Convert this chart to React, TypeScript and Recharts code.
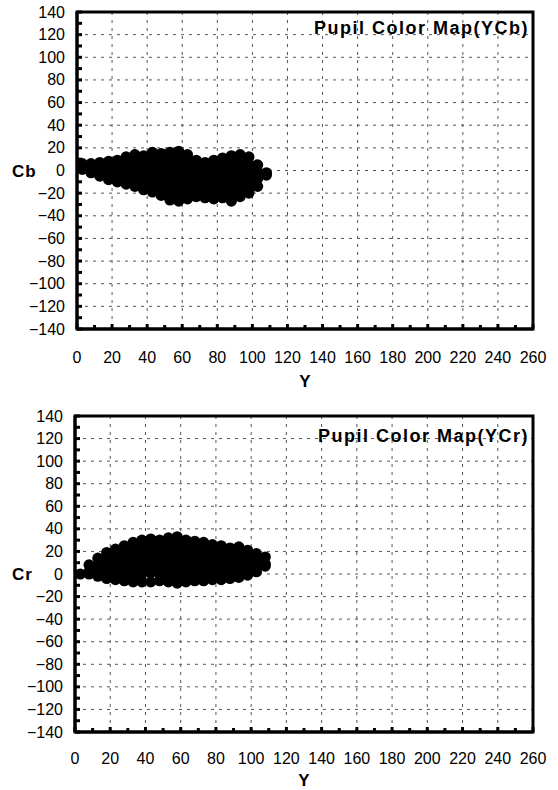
import React from "react";
import {
  ScatterChart,
  Scatter,
  XAxis,
  YAxis,
  CartesianGrid,
  ReferenceArea,
} from "recharts";

// axis ticks (minor every 10, labels every 20)
const xTicks = [0, 10, 20, 30, 40, 50, 60, 70, 80, 90, 100, 110, 120, 130, 140, 150, 160, 170, 180, 190, 200, 210, 220, 230, 240, 250, 260];
const yTicks = [-140, -130, -120, -110, -100, -90, -80, -70, -60, -50, -40, -30, -20, -10, 0, 10, 20, 30, 40, 50, 60, 70, 80, 90, 100, 110, 120, 130, 140];
const xGrid = [20, 40, 60, 80, 100, 120, 140, 160, 180, 200, 220, 240];
const yGrid = [-120, -100, -80, -60, -40, -20, 0, 20, 40, 60, 80, 100, 120];

// sample columns of the pupil pixel clouds (Y value)
const lumaColumns = [3, 8, 13, 18, 23, 28, 33, 38, 43, 48, 53, 58, 63, 68, 73, 78, 83, 88, 93, 98, 103, 108];

// Cb values read per column
const cbValues = [
  [6, 1],
  [6, 0, -2],
  [7, 1, -5],
  [8, 2, -4, -8],
  [9, 3, -3, -9, -10],
  [12, 6, 0, -6, -12],
  [14, 8, 2, -4, -10, -14],
  [13, 7, 1, -5, -11, -17],
  [16, 10, 4, -2, -8, -14, -19],
  [15, 9, 3, -3, -9, -15, -22],
  [16, 10, 4, -2, -8, -14, -20, -26],
  [17, 11, 5, -1, -7, -13, -19, -25, -27],
  [14, 8, 2, -4, -10, -16, -22, -25],
  [9, 3, -3, -9, -15, -21, -23],
  [7, 1, -5, -11, -17, -23, -24],
  [9, 3, -3, -9, -15, -21, -25],
  [11, 5, -1, -7, -13, -19, -24],
  [13, 7, 1, -5, -11, -17, -23, -27],
  [14, 8, 2, -4, -10, -16, -23],
  [12, 6, 0, -6, -12, -18, -20],
  [5, -1, -7, -14],
  [-2, -4],
];

// Cr values read per column
const crValues = [
  [0],
  [8, 2, 0],
  [14, 8, 2, -2],
  [19, 13, 7, 1, -4],
  [22, 16, 10, 4, -2, -5],
  [25, 19, 13, 7, 1, -6],
  [28, 22, 16, 10, 4, -2, -7],
  [30, 24, 18, 12, 6, 0, -7],
  [31, 25, 19, 13, 7, 1, -7],
  [30, 24, 18, 12, 6, 0, -6],
  [32, 26, 20, 14, 8, 2, -4, -7],
  [33, 27, 21, 15, 9, 3, -3, -8],
  [30, 24, 18, 12, 6, 0, -7],
  [29, 23, 17, 11, 5, -1, -6],
  [28, 22, 16, 10, 4, -2, -6],
  [26, 20, 14, 8, 2, -4, -5],
  [25, 19, 13, 7, 1, -5],
  [23, 17, 11, 5, -1, -4],
  [24, 18, 12, 6, 0, -3],
  [21, 15, 9, 3, -1],
  [18, 12, 6, 2],
  [15, 9, 7],
];

const FONT = "'Liberation Sans', Arial, sans-serif";

const toPoints = (values: number[][]) =>
  lumaColumns.flatMap((y, i) => values[i].map((v) => ({ Y: y, v })));

const fmt = (v: number) => String(v).replace("-", "\u2212");

const YTick = (props: any) => {
  const { x, y, payload } = props;
  const v = payload.value;
  return (
    <g>
      <line x1={x} x2={x + 5} y1={y} y2={y} stroke="#000" strokeWidth={3} />
      {v % 20 === 0 && (
        <text x={x - 12} y={y} dy={5.5} textAnchor="end" fontFamily={FONT} fontSize={16} fill="#000">
          {fmt(v)}
        </text>
      )}
    </g>
  );
};

const makeXTick = (labelDy: number) => (props: any) => {
  const { x, y, payload } = props;
  const v = payload.value;
  return (
    <g>
      <line x1={x} x2={x} y1={y} y2={y - (v % 20 === 0 ? 5 : 4)} stroke="#000" strokeWidth={3} />
      {v % 20 === 0 && (
        <text x={x} y={y + labelDy} textAnchor="middle" fontFamily={FONT} fontSize={16} fill="#000">
          {v}
        </text>
      )}
    </g>
  );
};

interface MapChartProps {
  data: { Y: number; v: number }[];
  axisName: string;
  title: string;
  height: number;
  top: number;
  plotTop: number;
  yAxisWidth: number;
  xAxisHeight: number;
  bottom: number;
  labelDy: number;
  titleTop: number;
  yLabelOffset: number;
}

function MapChart({
  data,
  axisName,
  title,
  height,
  top,
  plotTop,
  yAxisWidth,
  xAxisHeight,
  bottom,
  labelDy,
  titleTop,
  yLabelOffset,
}: MapChartProps) {
  return (
    <div style={{ position: "absolute", left: 0, top, width: 558, height }}>
      <ScatterChart
        width={558}
        height={height}
        margin={{ top: plotTop, right: 25, bottom, left: 0 }}
      >
        <CartesianGrid
          horizontalValues={yGrid}
          verticalValues={xGrid}
          stroke="#555"
          strokeDasharray="3 5"
          strokeWidth={1}
        />
        <XAxis
          type="number"
          dataKey="Y"
          domain={[0, 260]}
          ticks={xTicks}
          interval={0}
          height={xAxisHeight}
          tickSize={0}
          tickMargin={0}
          axisLine={{ stroke: "#000", strokeWidth: 3 }}
          tick={makeXTick(labelDy)}
          label={{
            value: "Y",
            position: "insideBottom",
            offset: yLabelOffset,
            style: { fontFamily: FONT, fontSize: 17, fontWeight: "bold", fill: "#000" },
          }}
        />
        <YAxis
          type="number"
          dataKey="v"
          domain={[-140, 140]}
          ticks={yTicks}
          interval={0}
          width={yAxisWidth}
          tickSize={0}
          tickMargin={0}
          axisLine={{ stroke: "#000", strokeWidth: 3 }}
          tick={<YTick />}
          label={{
            value: axisName,
            position: "insideLeft",
            offset: 12,
            angle: 0,
            style: { fontFamily: FONT, fontSize: 17, fontWeight: "bold", fill: "#000", letterSpacing: "1px" },
          }}
        />
        <Scatter
          data={data}
          fill="#000"
          isAnimationActive={false}
          shape={(p: any) => <circle cx={p.cx} cy={p.cy} r={5.6} fill="#000" />}
        />
        <ReferenceArea
          x1={0}
          x2={260}
          y1={-140}
          y2={140}
          fill="none"
          fillOpacity={0}
          stroke="#000"
          strokeWidth={3}
        />
      </ScatterChart>
      <div
        style={{
          position: "absolute",
          right: 29,
          top: titleTop,
          fontFamily: FONT,
          fontSize: 18,
          fontWeight: "bold",
          letterSpacing: "1.5px",
          lineHeight: "20px",
          color: "#000",
          whiteSpace: "nowrap",
        }}
      >
        {title}
      </div>
    </div>
  );
}

export default function App() {
  return (
    <div style={{ position: "absolute", left: 0, top: 0, width: 558, height: 790, background: "#fff" }}>
      <MapChart
        data={toPoints(cbValues)}
        axisName="Cb"
        title="Pupil Color Map(YCb)"
        height={400}
        top={0}
        plotTop={12}
        yAxisWidth={77}
        xAxisHeight={60}
        bottom={11}
        labelDy={34}
        titleTop={18}
        yLabelOffset={2}
      />
      <MapChart
        data={toPoints(crValues)}
        axisName="Cr"
        title="Pupil Color Map(YCr)"
        height={390}
        top={400}
        plotTop={16}
        yAxisWidth={75}
        xAxisHeight={58}
        bottom={0}
        labelDy={32}
        titleTop={26}
        yLabelOffset={4}
      />
    </div>
  );
}
